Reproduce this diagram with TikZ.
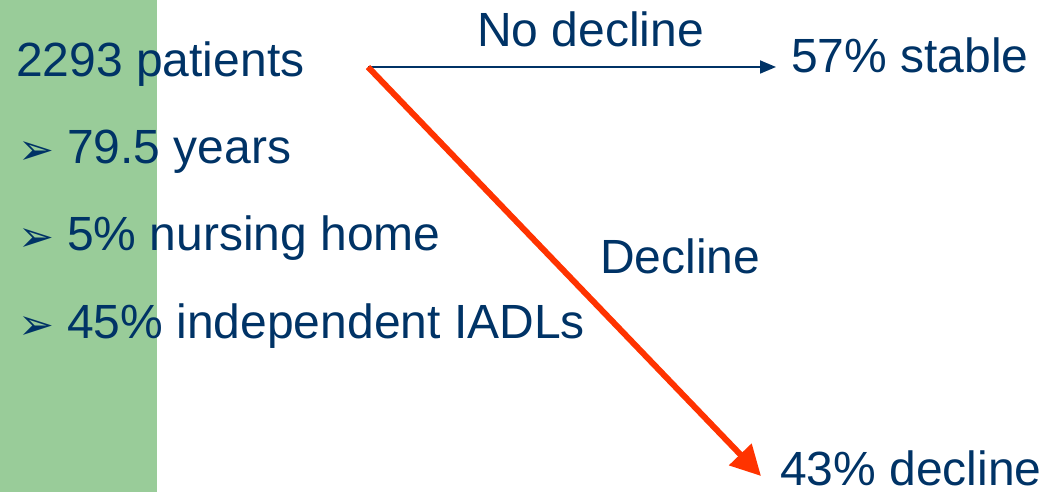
\documentclass[tikz,border=0pt]{standalone}
\usepackage{fontspec}
\setmainfont{Liberation Sans}
\newfontfamily\dejavu{DejaVu Sans}
\usetikzlibrary{arrows.meta}
\definecolor{navy}{HTML}{003366}
\definecolor{leaf}{HTML}{99CC99}
\definecolor{flame}{HTML}{FF3300}
\tikzset{
  txt/.style={anchor=base west, inner sep=0pt, text=navy, font=\fontsize{48}{56}\selectfont},
  bul/.style={anchor=base west, inner sep=0pt, text=navy, font=\dejavu\fontsize{43}{48}\selectfont},
}
\begin{document}
\begin{tikzpicture}[x=1pt,y=-1pt]
\useasboundingbox (0,0) rectangle (1048,492);
\fill[leaf] (0,0) rectangle (157,492);
\node[txt] (pat) at (16,77) {2293 patients};
\node[bul] (b1) at (18,164) {➢};
\node[txt] (yrs) at (67,163) {79.5 years};
\node[bul] (b2) at (18,251) {➢};
\node[txt] (nh) at (67,250) {5\% nursing home};
\node[bul] (b3) at (18,339) {➢};
\node[txt] (ind) at (67,338) {45\% independent IADLs};
\node[txt] (nd) at (477,47) {No decline};
\node[txt] (stable) at (791,73) {57\% stable};
\node[txt] (dl) at (600,273) {Decline};
\node[txt, text depth=0pt] (dec) at (780,485) {43\% decline};
\coordinate (o) at (368,67);
\coordinate (s) at (776,67);
\coordinate (d) at (761,476);
\draw[navy, line width=1.8pt, -{Triangle[length=16pt,width=13pt]}] (o) -- (s);
\draw[flame, line width=6pt, -{Triangle[length=30pt,width=30pt]}] (o) -- (d);
\end{tikzpicture}
\end{document}
